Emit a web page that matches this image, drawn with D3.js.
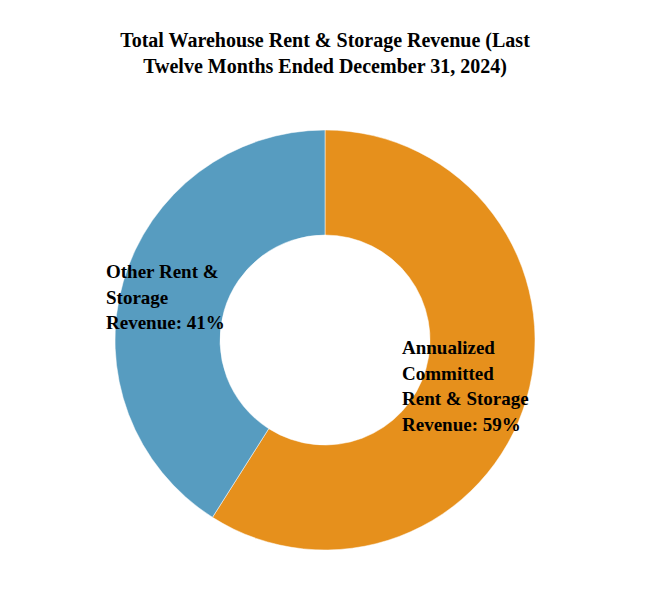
<!DOCTYPE html>
<html>
<head>
<meta charset="utf-8">
<script src="https://cdn.jsdelivr.net/npm/d3@7"></script>
<style>body{margin:0;background:#fff}</style>
</head>
<body>
<svg id="canvas" width="650" height="600"></svg>
<script>
const width = 650
const height = 600

const categories = ["Annualized Committed Rent & Storage Revenue", "Other Rent & Storage Revenue"]
const values = [59, 41]
const colors = ["#E6901C", "#579CC0"]
const labelLines = [
    ["Annualized", "Committed", "Rent & Storage", "Revenue: 59%"],
    ["Other Rent &", "Storage", "Revenue: 41%"]
]
const titleLines = ["Total Warehouse Rent & Storage Revenue (Last", "Twelve Months Ended December 31, 2024)"]

const cx = 325, cy = 340, outerR = 210, innerR = 105
const font = "'Liberation Serif', 'Times New Roman', serif"

const canvas = d3.select("#canvas")

canvas.selectAll("text.title")
    .data(titleLines)
    .enter().append("text")
    .attr("x", width / 2)
    .attr("y", (d, i) => 47 + i * 26)
    .attr("text-anchor", "middle")
    .attr("font-family", font)
    .attr("font-weight", "bold")
    .attr("font-size", 20)
    .text(d => d)

const pie = d3.pie().sort(null).value(d => d)
const arc = d3.arc().innerRadius(innerR).outerRadius(outerR)

const g = canvas.append("g").attr("transform", `translate(${cx},${cy})`)
g.selectAll("path")
    .data(pie(values))
    .enter().append("path")
    .attr("d", arc)
    .attr("fill", (d, i) => colors[i])
    .attr("stroke", "#fff")
    .attr("stroke-width", 0.5)

// label positions (left x, first baseline)
const labelPos = [[402, 354], [106, 278]]
labelLines.forEach((lines, k) => {
    const t = canvas.append("text")
        .attr("font-family", font)
        .attr("font-weight", "bold")
        .attr("font-size", 19)
        .attr("fill", "#000")
    lines.forEach((line, i) => {
        t.append("tspan")
            .attr("x", labelPos[k][0])
            .attr("y", labelPos[k][1] + i * 25.5)
            .text(line)
    })
})
</script>
</body>
</html>
